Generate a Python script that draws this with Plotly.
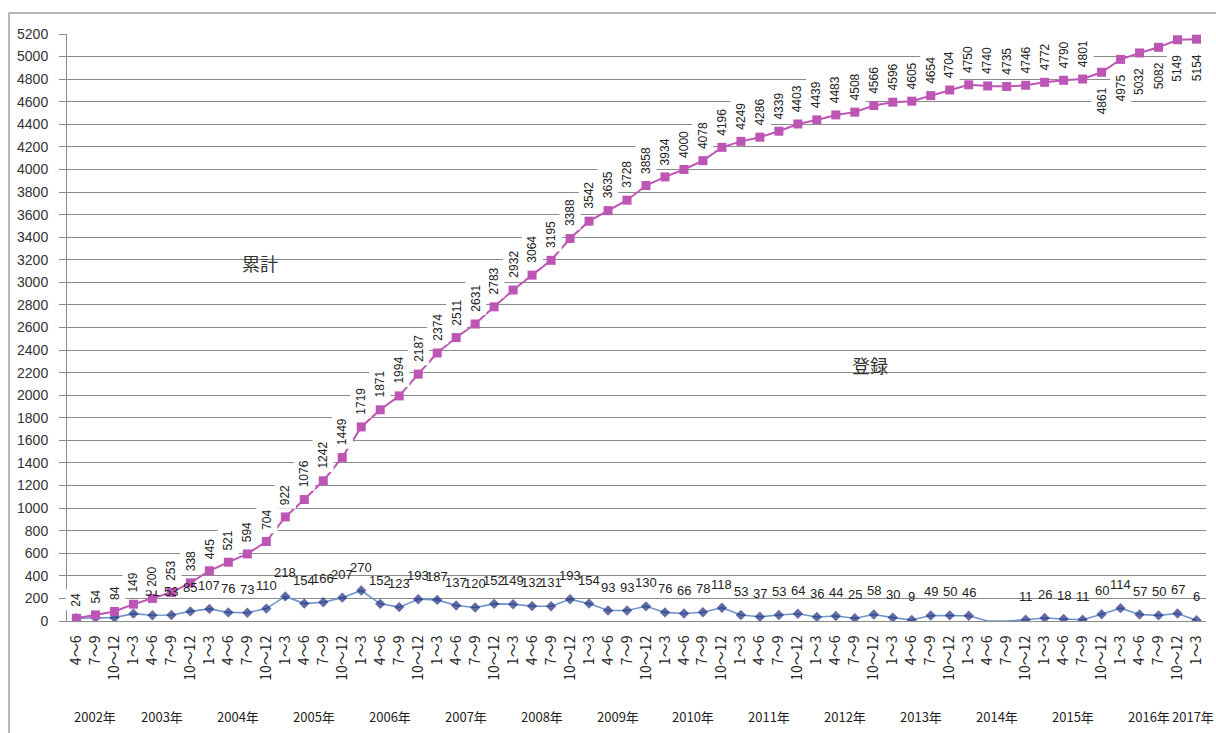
import plotly.graph_objects as go

# ---- data ----
quarters = ["4～6", "7～9", "10～12"] + ["1～3", "4～6", "7～9", "10～12"] * 14 + ["1～3"]
years = ["2002年", "2003年", "2004年", "2005年", "2006年", "2007年", "2008年", "2009年",
         "2010年", "2011年", "2012年", "2013年", "2014年", "2015年", "2016年", "2017年"]
year_counts = [3] + [4] * 14 + [1]

cumulative = [24, 54, 84, 149, 200, 253, 338, 445, 521, 594, 704, 922, 1076, 1242, 1449,
              1719, 1871, 1994, 2187, 2374, 2511, 2631, 2783, 2932, 3064, 3195, 3388, 3542,
              3635, 3728, 3858, 3934, 4000, 4078, 4196, 4249, 4286, 4339, 4403, 4439, 4483,
              4508, 4566, 4596, 4605, 4654, 4704, 4750, 4740, 4735, 4746, 4772, 4790, 4801,
              4861, 4975, 5032, 5082, 5149, 5154]
quarterly = [24, 30, 30, 65, 51, 53, 85, 107, 76, 73, 110, 218, 154, 166, 207, 270, 152, 123,
             193, 187, 137, 120, 152, 149, 132, 131, 193, 154, 93, 93, 130, 76, 66, 78, 118,
             53, 37, 53, 64, 36, 44, 25, 58, 30, 9, 49, 50, 46, None, None, 11, 26, 18, 11,
             60, 114, 57, 50, 67, 6]
y_ticks = list(range(0, 5201, 200))

PINK = "#BD55B5"
NAVY = "#1F2F7E"
LBLUE = "#6F93CC"
FONT = "Liberation Sans, Noto Sans CJK JP, sans-serif"
JFONT = "Noto Sans CJK JP, Liberation Sans, sans-serif"

xs = list(range(len(quarters)))
q_line = [v if v is not None else 0 for v in quarterly]
q_size = [8 if v is not None else 0 for v in quarterly]

fig = go.Figure()
fig.add_trace(go.Scatter(
    x=xs, y=q_line, mode="lines+markers",
    line=dict(color=LBLUE, width=1.6),
    marker=dict(symbol="diamond", size=q_size, color=NAVY, line=dict(width=0)),
    hoverinfo="skip", showlegend=False))
fig.add_trace(go.Scatter(
    x=xs, y=cumulative, mode="lines+markers",
    line=dict(color=PINK, width=2),
    marker=dict(symbol="square", size=9, color=PINK, line=dict(width=0)),
    hoverinfo="skip", showlegend=False))

annotations = []
# quarterly labels (horizontal, above)
for i, v in enumerate(quarterly):
    if v is None:
        continue
    annotations.append(dict(x=i, y=v, xref="x", yref="y", text=str(v), showarrow=False,
                            yanchor="bottom", yshift=14,
                            font=dict(family=FONT, size=13, color="#222222")))
# cumulative labels (rotated)
n_below_from = 54
for i, v in enumerate(cumulative):
    below = i >= n_below_from
    annotations.append(dict(x=i, y=v, xref="x", yref="y", text=str(v), showarrow=False,
                            textangle=-90, bgcolor="white", borderpad=3,
                            yanchor="top" if below else "bottom",
                            yshift=-11 if below else 8,
                            font=dict(family=FONT, size=12, color="#222222")))
# year labels
start = 0
for yname, cnt in zip(years, year_counts):
    last = yname == years[-1]
    annotations.append(dict(x=start + (cnt - 1) / 2, y=-0.1635, xref="x", yref="paper",
                            text=yname, showarrow=False, yanchor="middle",
                            xshift=-4 if last else 0,
                            font=dict(family=JFONT, size=13, color="#222222")))
    start += cnt
# series names
annotations.append(dict(x=0.152, y=0.610, xref="paper", yref="paper", text="累計",
                        showarrow=False, font=dict(family=JFONT, size=18, color="#333333")))
annotations.append(dict(x=0.7226, y=0.436, xref="paper", yref="paper", text="登録",
                        showarrow=False, font=dict(family=JFONT, size=18, color="#333333")))

fig.update_layout(
    width=1216, height=733,
    margin=dict(l=67, r=10, t=34, b=112),
    paper_bgcolor="white", plot_bgcolor="white",
    annotations=annotations,
    shapes=[dict(type="rect", xref="paper", yref="paper", x0=-0.0509, y0=-0.3,
                 x1=1.2, y1=1.0358, line=dict(color="#9aa39a", width=1.5), layer="below")],
    xaxis=dict(range=[-0.5, len(quarters) - 0.5], tickmode="array", tickvals=xs,
               ticktext=quarters, tickangle=-90, showgrid=False, zeroline=False,
               showline=True, linecolor="#8a8a8a", ticks="", ticklabelstandoff=8,
               tickfont=dict(family=JFONT, size=14, color="#222222")),
    yaxis=dict(range=[0, 5200], tickmode="array", tickvals=y_ticks,
               showgrid=True, gridcolor="#8a8a8a", gridwidth=1, zeroline=False,
               showline=True, linecolor="#8a8a8a", ticks="outside", ticklen=7,
               tickcolor="#8a8a8a", ticklabelstandoff=8,
               tickfont=dict(family=FONT, size=14, color="#333333")),
)

fig.write_html("out.html")
